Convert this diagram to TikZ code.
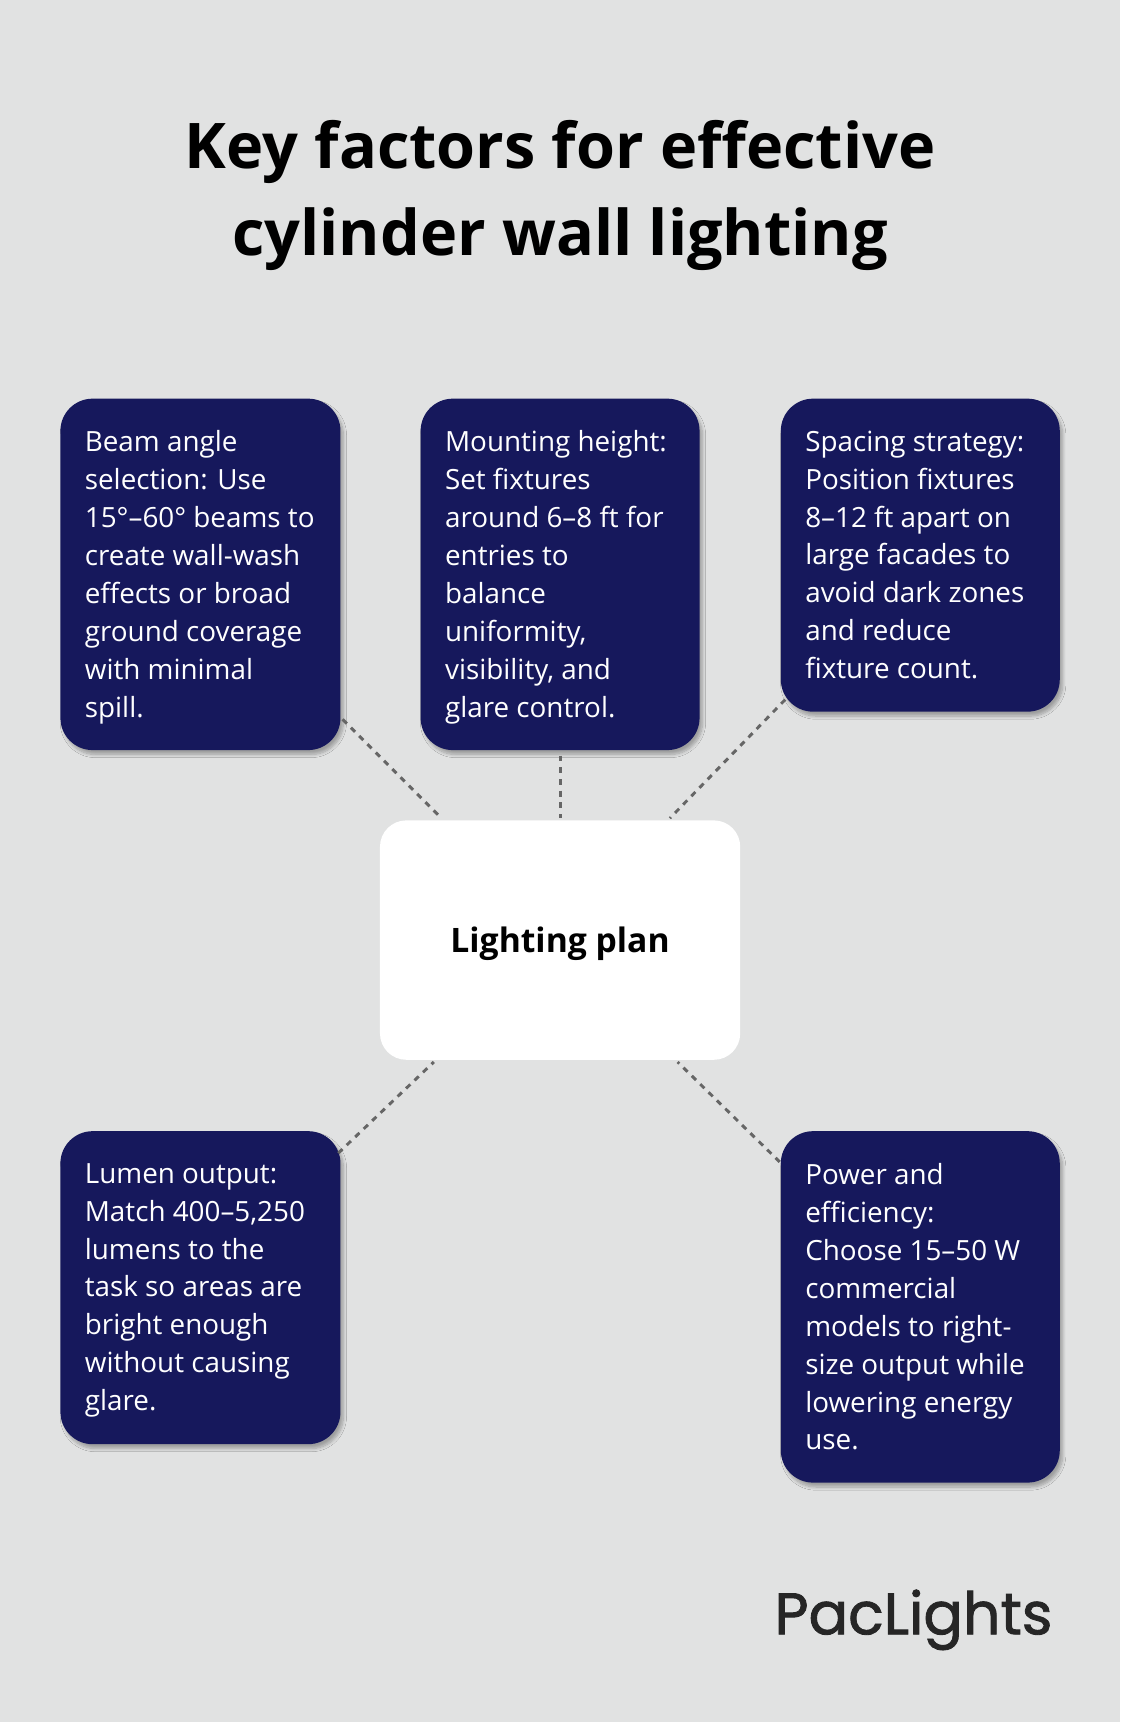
\documentclass[tikz,border=0pt]{standalone}
\usepackage{fontspec}
\setmainfont{Open Sans}
\newfontfamily\logofont[FakeBold=1.5]{Poppins}
\usetikzlibrary{shadows.blur}
\definecolor{navy}{HTML}{16185C}
\definecolor{bg}{HTML}{E1E2E2}
\begin{document}
\begin{tikzpicture}[x=0.75pt,y=-0.75pt,
  card/.style={fill=navy,rounded corners=22pt,blur shadow={shadow blur steps=8,shadow xshift=2pt,shadow yshift=-3pt,shadow opacity=30}},
  txt/.style={anchor=north west,text=white,align=left,inner sep=0pt,font=\fontsize{19}{25.9}\selectfont},
  conn/.style={draw=black!60,line width=2pt,dash pattern=on 4pt off 4pt}]
\useasboundingbox[fill=bg] (0,0) rectangle (1020,1568);
\node[font=\bfseries\fontsize{43}{60}\selectfont,align=center] (title) at (510,178) {Key factors for effective\\cylinder wall lighting};
\path[card] (55,363) rectangle (310,683); \node (b1) at (182,523) {};
\path[card] (383,363) rectangle (637,683); \node (b2) at (510,523) {};
\path[card] (711,363) rectangle (965,648); \node (b3) at (838,505) {};
\path[card] (55,1030) rectangle (310,1315); \node (b4) at (182,1172) {};
\path[card] (711,1030) rectangle (965,1350); \node (b5) at (838,1190) {};
\path[fill=white,rounded corners=18pt] (346,747) rectangle (674,965);
\node[font=\bfseries\fontsize{23}{28}\selectfont] (c) at (510,859) {Lighting plan};
\node[txt] (t1) at (77,392) {Beam angle\\selection: Use\\15°–60° beams to\\create wall-wash\\effects or broad\\ground coverage\\with minimal\\spill.};
\node[txt] (t2) at (405,392) {Mounting height:\\Set fixtures\\around 6–8 ft for\\entries to\\balance\\uniformity,\\visibility, and\\glare control.};
\node[txt] (t3) at (733,392) {Spacing strategy:\\Position fixtures\\8–12 ft apart on\\large facades to\\avoid dark zones\\and reduce\\fixture count.};
\node[txt] (t4) at (77,1059) {Lumen output:\\Match 400–5,250\\lumens to the\\task so areas are\\bright enough\\without causing\\glare.};
\node[txt] (t5) at (733,1059) {Power and\\efficiency:\\Choose 15–50 W\\commercial\\models to right-\\size output while\\lowering energy\\use.};
\coordinate (p1) at (312,655); \coordinate (q1) at (402,745);
\coordinate (p2) at (510,688); \coordinate (q2) at (510,745);
\coordinate (p3) at (715,637); \coordinate (q3) at (610,745);
\coordinate (p4) at (308,1050); \coordinate (q4) at (395,967);
\coordinate (p5) at (710,1058); \coordinate (q5) at (617,967);
\draw[conn] (p1)--(q1); \draw[conn] (p2)--(q2); \draw[conn] (p3)--(q3);
\draw[conn] (p4)--(q4); \draw[conn] (p5)--(q5);
\node[font=\logofont\fontsize{40}{40}\selectfont,text=black!85,anchor=east] (logo) at (963,1475) {PacLights};
\end{tikzpicture}
\end{document}
